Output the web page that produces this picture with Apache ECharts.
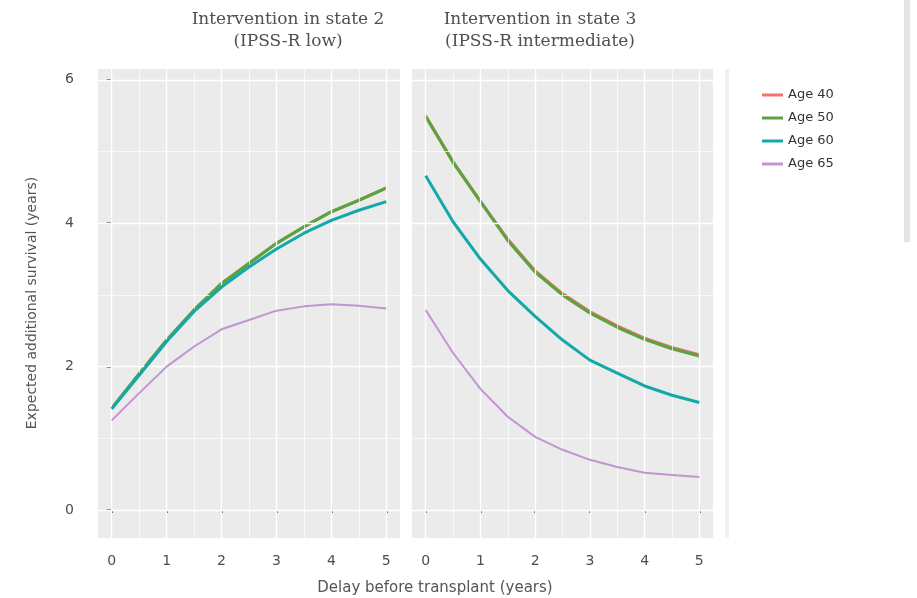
<!DOCTYPE html>
<html>
<head>
<meta charset="utf-8">
<script src="https://cdn.jsdelivr.net/npm/echarts@6/dist/echarts.min.js"></script>
<style>
  html, body { margin: 0; padding: 0; background: #ffffff; }
  #chart { width: 917px; height: 598px; }
</style>
</head>
<body>
<div id="chart"></div>
<script>
// Delay before transplant (years), sampled every half year
const delays = [0, 0.5, 1, 1.5, 2, 2.5, 3, 3.5, 4, 4.5, 5];

const ageGroups = ['Age 40', 'Age 50', 'Age 60', 'Age 65'];

// Expected additional survival (years) — intervention in state 2 (IPSS-R low)
const state2Age40 = [1.42, 1.90, 2.37, 2.79, 3.16, 3.44, 3.72, 3.95, 4.16, 4.32, 4.49];
const state2Age50 = [1.42, 1.90, 2.37, 2.79, 3.16, 3.44, 3.72, 3.95, 4.16, 4.32, 4.49];
const state2Age60 = [1.41, 1.88, 2.35, 2.77, 3.11, 3.39, 3.64, 3.86, 4.04, 4.18, 4.30];
const state2Age65 = [1.25, 1.63, 2.00, 2.28, 2.52, 2.65, 2.78, 2.84, 2.87, 2.85, 2.81];

// Expected additional survival (years) — intervention in state 3 (IPSS-R intermediate)
const state3Age40 = [5.50, 4.86, 4.31, 3.78, 3.34, 3.02, 2.77, 2.57, 2.40, 2.27, 2.17];
const state3Age50 = [5.49, 4.85, 4.30, 3.76, 3.32, 3.00, 2.75, 2.55, 2.38, 2.25, 2.15];
const state3Age60 = [4.66, 4.02, 3.50, 3.06, 2.70, 2.37, 2.09, 1.91, 1.73, 1.60, 1.50];
const state3Age65 = [2.79, 2.19, 1.69, 1.30, 1.02, 0.84, 0.70, 0.60, 0.52, 0.49, 0.46];

const panelTitles = [
  ['Intervention in state 2', '(IPSS-R low)'],
  ['Intervention in state 3', '(IPSS-R intermediate)']
];

const xTicks = [0, 1, 2, 3, 4, 5];
const xMinorGrid = [0.5, 1.5, 2.5, 3.5, 4.5];
const yTicks = [0, 2, 4, 6];
const yMinorGrid = [1, 3, 5];

const xTitle = 'Delay before transplant (years)';
const yTitle = 'Expected additional survival (years)';

const ageColors = ['#EE7470', '#5FA040', '#14A8A9', '#C295D1'];
const ageWidths = [2.6, 3.2, 3.0, 2.0];

const panels = [
  [state2Age40, state2Age50, state2Age60, state2Age65],
  [state3Age40, state3Age50, state3Age60, state3Age65]
];

const SANS = '"DejaVu Sans", sans-serif';
const SERIF = '"DejaVu Serif", serif';

const grids = [
  { left: 98, top: 69, width: 302, height: 469 },
  { left: 412, top: 69, width: 301, height: 469 }
];

const xAxes = grids.map((g, i) => ({
  type: 'value',
  gridIndex: i,
  min: -0.25,
  max: 5.25,
  axisLine: { show: false },
  splitLine: { show: false },
  axisTick: {
    show: true, length: 3, customValues: xTicks,
    lineStyle: { color: '#444', width: 1.8 }
  },
  axisLabel: {
    customValues: xTicks, margin: 16,
    color: '#4d4d4d', fontSize: 14, fontFamily: SANS
  }
}));

const yAxes = grids.map((g, i) => ({
  type: 'value',
  gridIndex: i,
  min: -0.39,
  max: 6.15,
  axisLine: { show: false },
  splitLine: { show: false },
  axisTick: {
    show: i === 0, length: 5, customValues: yTicks,
    lineStyle: { color: '#444', width: 1.5 }
  },
  axisLabel: {
    show: i === 0, customValues: yTicks, margin: 24,
    color: '#4d4d4d', fontSize: 14, fontFamily: SANS
  }
}));

const series = [];
panels.forEach((panel, p) => {
  // panel grid lines, laid out on the panel's own axes
  const major = { color: '#ffffff', width: 1.4, type: 'solid' };
  const minor = { color: '#ffffff', width: 0.7, type: 'solid' };
  series.push({
    type: 'line',
    xAxisIndex: p,
    yAxisIndex: p,
    data: [],
    silent: true,
    z: 1,
    markLine: {
      silent: true,
      symbol: ['none', 'none'],
      label: { show: false },
      emphasis: { disabled: true },
      animation: false,
      data: [
        ...xMinorGrid.map(v => ({ xAxis: v, lineStyle: minor })),
        ...yMinorGrid.map(v => ({ yAxis: v, lineStyle: minor })),
        ...xTicks.map(v => ({ xAxis: v, lineStyle: major })),
        ...yTicks.map(v => ({ yAxis: v, lineStyle: major }))
      ]
    }
  });
  panel.forEach((values, a) => {
    series.push({
      type: 'line',
      name: ageGroups[a],
      xAxisIndex: p,
      yAxisIndex: p,
      data: delays.map((d, k) => [d, values[k]]),
      symbol: 'none',
      z: 3 + a,
      color: ageColors[a],
      lineStyle: { color: ageColors[a], width: ageWidths[a] },
      emphasis: { disabled: true }
    });
  });
});

const graphic = [
  // title lines above each panel
  ...panelTitles.flatMap((lines, p) => {
    const cx = p === 0 ? 288 : 540;
    return lines.map((t, k) => ({
      type: 'text',
      x: cx, y: 20 + k * 22,
      silent: true,
      style: {
        text: t, fill: '#505050', font: '17px ' + SERIF,
        align: 'center', verticalAlign: 'middle'
      }
    }));
  }),
  {
    type: 'text', x: 435, y: 588, silent: true,
    style: { text: xTitle, fill: '#555', font: '15px ' + SANS, align: 'center', verticalAlign: 'middle' }
  },
  {
    type: 'text', x: 32, y: 303, rotation: Math.PI / 2, silent: true,
    style: { text: yTitle, fill: '#555', font: '14px ' + SANS, align: 'center', verticalAlign: 'middle' }
  },
  // pale strip at the right edge of the panels and page scroll track
  { type: 'rect', silent: true, shape: { x: 725, y: 69, width: 4, height: 469 }, style: { fill: '#F1F1F1' } },
  { type: 'rect', silent: true, shape: { x: 904, y: 0, width: 6, height: 242 }, style: { fill: '#E5E5E5' } }
];

const chart = echarts.init(document.getElementById('chart'), null, { renderer: 'canvas' });
chart.setOption({
  animation: false,
  backgroundColor: '#ffffff',
  grid: grids.map(g => Object.assign({ show: true, backgroundColor: '#EBEBEB', borderWidth: 0 }, g)),
  xAxis: xAxes,
  yAxis: yAxes,
  legend: {
    data: ageGroups,
    orient: 'vertical',
    left: 757,
    top: 83,
    icon: 'rect',
    itemWidth: 21,
    itemHeight: 3,
    itemGap: 9,
    selectedMode: false,
    textStyle: { color: '#333', fontSize: 13, fontFamily: SANS, lineHeight: 14 }
  },
  graphic: graphic,
  series: series
});
</script>
</body>
</html>
